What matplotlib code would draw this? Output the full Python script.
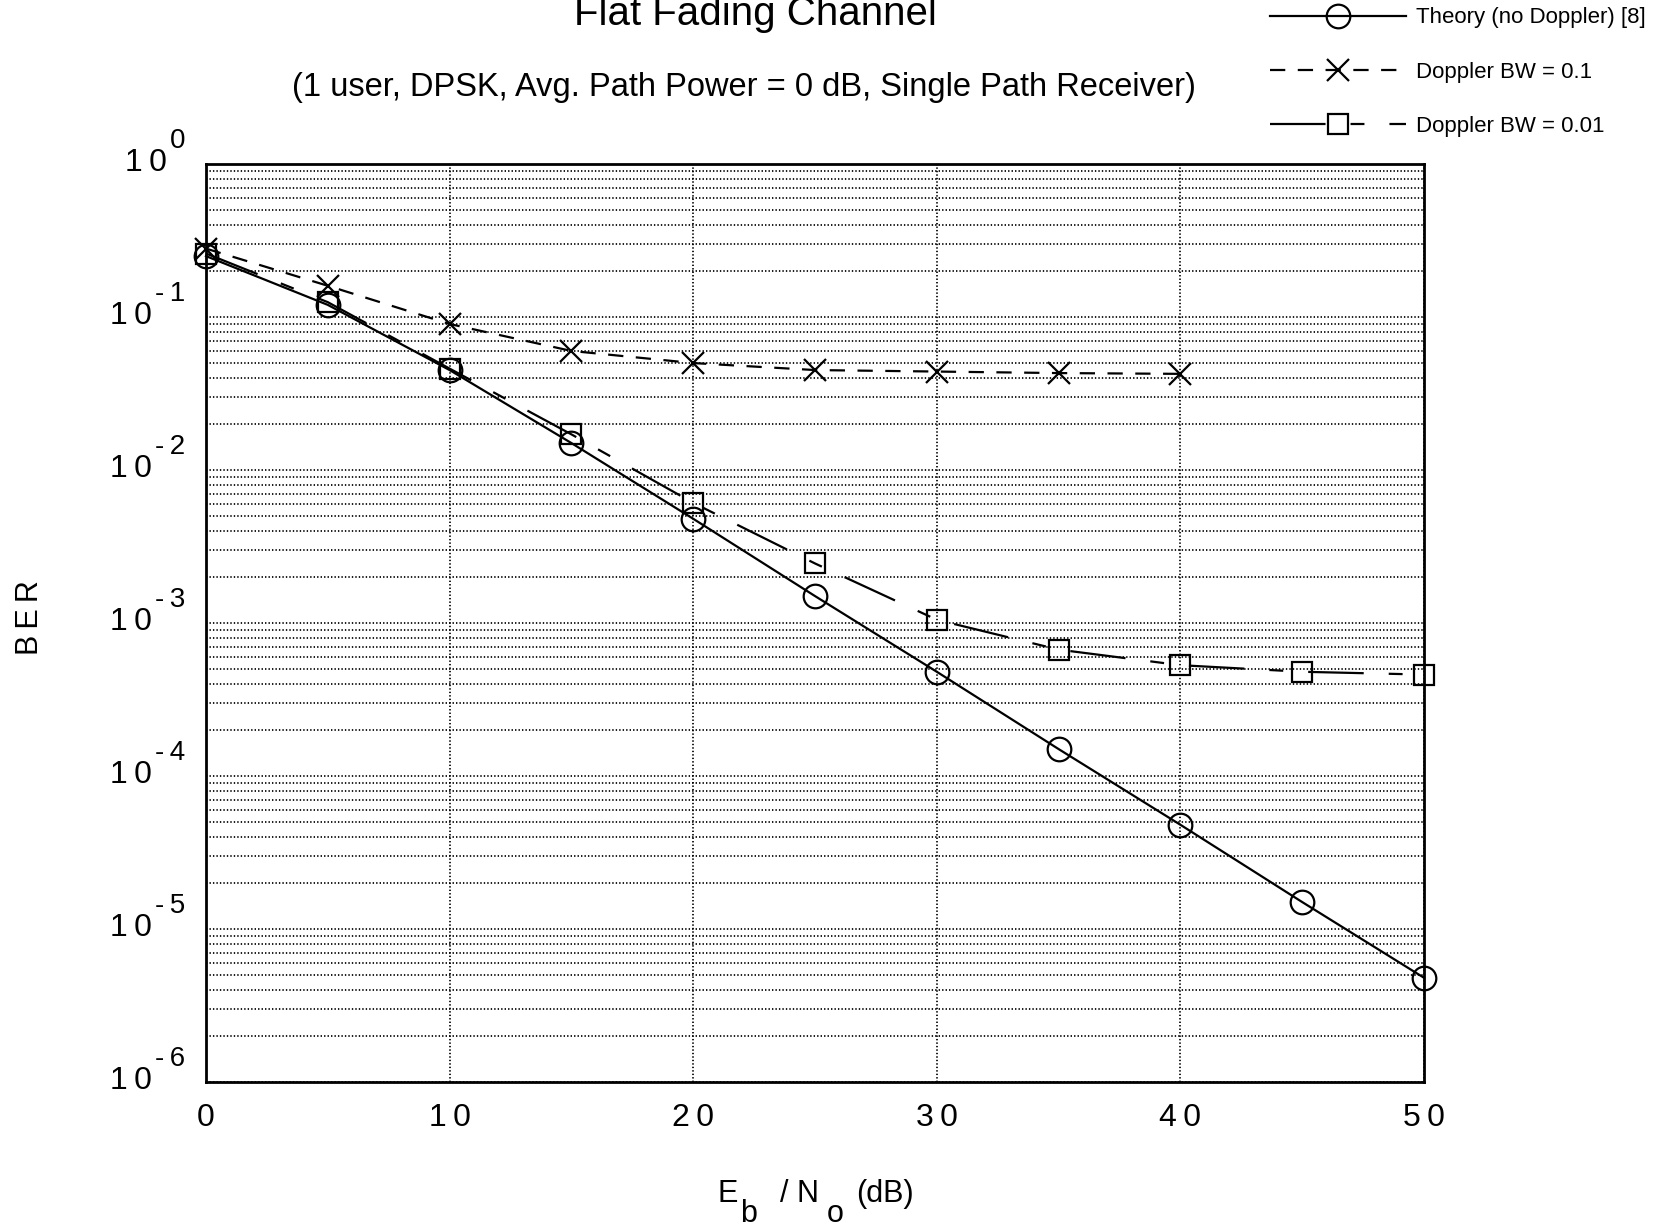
import matplotlib
matplotlib.use("Agg")
import matplotlib.pyplot as plt
from matplotlib.ticker import LogLocator, NullFormatter
from matplotlib.transforms import offset_copy

plt.rcParams['font.family'] = ['Liberation Sans', 'DejaVu Sans']
plt.rcParams['lines.scale_dashes'] = False

# ---------------- data ----------------
ebno_full = [0, 5, 10, 15, 20, 25, 30, 35, 40, 45, 50]
ber_theory = [0.25, 0.12, 0.045, 0.015, 0.0048, 0.0015, 4.8e-4, 1.5e-4, 4.8e-5, 1.5e-5, 4.8e-6]

ebno_d01 = [0, 5, 10, 15, 20, 25, 30, 35, 40]
ber_d01 = [0.28, 0.16, 0.090, 0.060, 0.050, 0.045, 0.044, 0.043, 0.0425]

ber_d001 = [0.26, 0.125, 0.046, 0.0171, 0.0061, 0.00245, 0.00105, 6.7e-4, 5.3e-4, 4.8e-4, 4.6e-4]

x_ticks = [0, 10, 20, 30, 40, 50]
y_exponents = [0, -1, -2, -3, -4, -5, -6]

labels = ['Theory (no Doppler) [8]', 'Doppler BW = 0.1', 'Doppler BW = 0.01']

THIN = '\u2009'

# ---------------- figure ----------------
W, H = 1667, 1226
fig = plt.figure(figsize=(W / 100, H / 100), dpi=100)
ax = fig.add_axes([206 / W, 1 - 1082 / H, (1424 - 206) / W, (1082 - 164) / H])

ax.set_yscale('log')
ax.set_xlim(0, 50)
ax.set_ylim(1e-6, 1)

l1, = ax.plot(ebno_full, ber_theory, color='k', lw=1.6, ls='-',
              marker='o', ms=17, mfc='none', mec='k', mew=1.6, clip_on=False,
              label=labels[0])
l2, = ax.plot(ebno_d01, ber_d01, color='k', lw=1.6, ls=(0, (11, 9)),
              marker='x', ms=16, mec='k', mew=1.6, clip_on=False,
              label=labels[1])
l3, = ax.plot(ebno_full, ber_d001, color='k', lw=1.6, ls=(0, (40, 18, 10, 18)),
              marker='s', ms=15, mfc='none', mec='k', mew=1.6, clip_on=False,
              label=labels[2])

# grid
ax.yaxis.set_major_locator(LogLocator(base=10, numticks=20))
ax.yaxis.set_minor_locator(LogLocator(base=10, subs=[2, 3, 4, 5, 6, 7, 8, 9], numticks=100))
ax.yaxis.set_minor_formatter(NullFormatter())
ax.set_xticks(x_ticks)
ax.set_axisbelow(True)
gstyle = dict(color='k', lw=1.25, ls=(0, (1, 1.5)))
ax.grid(which='both', axis='y', **gstyle)
ax.grid(which='major', axis='x', **gstyle)

ax.tick_params(which='both', length=0)
ax.tick_params(axis='y', labelleft=False)
ax.tick_params(axis='x', labelsize=23, pad=15)
ax.set_xticklabels([THIN.join(str(v)) for v in x_ticks])
for s in ax.spines.values():
    s.set_linewidth(2.0)

# y tick labels: 10 with raised exponent
px = 0.72  # points per pixel at dpi 100
for k in y_exponents:
    tr = offset_copy(ax.get_yaxis_transform(), fig=fig, x=-21 * px, y=16 * px, units='points')
    exp_str = '0' if k == 0 else '-' + THIN + str(-k)
    exp_t = ax.text(0, 10.0 ** k, exp_str, transform=tr, ha='right', va='baseline',
                    fontsize=20, clip_on=False)
    ax.annotate('1' + THIN + '0', xy=(0, 10.0 ** k), xycoords=(exp_t, ax.get_yaxis_transform()),
                xytext=(-3 * px, -7 * px), textcoords='offset points',
                ha='right', va='baseline', fontsize=23, annotation_clip=False)

# axis labels
fig.text(30 / W, 1 - 618 / H, 'B' + THIN + 'E' + THIN + 'R', rotation=90,
         ha='center', va='center', fontsize=22)
xl_parts = [('E', 718, 1202), ('b', 740, 1222), ('/', 780, 1202),
            ('N', 796, 1202), ('o', 827, 1222), ('(dB)', 856, 1202)]
for txt, xx, yy in xl_parts:
    fig.text(xx / W, 1 - yy / H, txt, ha='left', va='baseline', fontsize=22)

# titles
fig.text(755 / W, 1 - 25 / H, 'Flat Fading Channel', ha='center', va='baseline', fontsize=29)
fig.text(744 / W, 1 - 96 / H, '(1 user, DPSK, Avg. Path Power = 0 dB, Single Path Receiver)',
         ha='center', va='baseline', fontsize=23.5)

# legend
fig.legend(handles=[l1, l2, l3], labels=labels, loc='upper left',
           bbox_to_anchor=(1270 / W, 1 - 7.5 / H), frameon=False, fontsize=16,
           handlelength=6.1, handletextpad=0.45, labelspacing=1.5,
           borderpad=0, borderaxespad=0, numpoints=1)

fig.savefig('out.png', dpi=100)
